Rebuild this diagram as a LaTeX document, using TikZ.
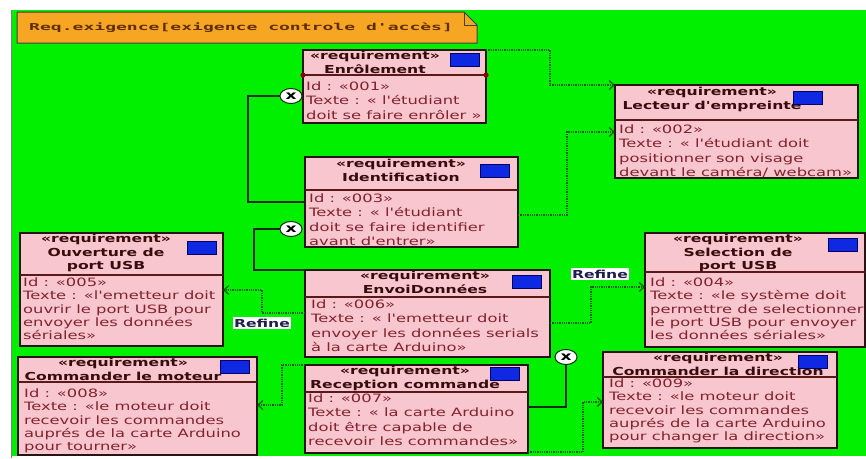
\documentclass[tikz,border=0pt]{standalone}
\usepackage{fontspec}
\setmainfont{DejaVu Sans}[FakeStretch=1.42,Ligatures=TeXOff]
\newfontfamily\titlefont{DejaVu Sans Mono}[FakeStretch=1.9,Ligatures=TeXOff]
\usetikzlibrary{arrows.meta,shapes.geometric}
\definecolor{bggreen}{RGB}{0,240,0}
\definecolor{tabor}{RGB}{246,166,35}
\definecolor{tabtxt}{RGB}{95,45,5}
\definecolor{reqpink}{RGB}{248,198,206}
\definecolor{boxline}{RGB}{40,20,20}
\definecolor{divred}{RGB}{90,25,25}
\definecolor{headtxt}{RGB}{55,12,12}
\definecolor{bodytxt}{RGB}{130,35,45}
\definecolor{iconblue}{RGB}{15,40,225}
\definecolor{refgreen}{RGB}{0,95,0}
\definecolor{contline}{RGB}{15,45,15}
\definecolor{reftxt}{RGB}{30,30,80}

\begin{document}
\begin{tikzpicture}[x=1pt,y=-1pt,
  req/.style={draw=boxline,line width=1.6pt,fill=reqpink,anchor=north west,inner sep=0pt,outer sep=0pt},
  divline/.style={draw=divred,line width=1.2pt},
  head/.style={text=headtxt,font=\bfseries\fontsize{11}{13.5}\selectfont,align=center,inner sep=0pt,anchor=north},
  body/.style={text=bodytxt,font=\fontsize{11.5}{14.5}\selectfont,align=left,inner sep=0pt,anchor=north west},
  tight/.style={font=\fontsize{11.5}{13.3}\selectfont},
  icon/.style={draw=blue!40!black,line width=.6pt,fill=iconblue,minimum width=29pt,minimum height=13pt,inner sep=0pt,anchor=north east},
  refine/.style={draw=refgreen,densely dotted,line width=1.3pt,-{Straight Barb[length=5pt,width=9pt,line width=1.2pt]}},
  reflabel/.style={fill=white,text=reftxt,font=\bfseries\fontsize{11}{12}\selectfont,inner sep=1.5pt},
  contain/.style={draw=contline,line width=1.6pt},
  ctnode/.style={ellipse,draw=contline,line width=1pt,fill=white,minimum width=22pt,minimum height=15pt,inner sep=0pt,font=\bfseries\fontsize{12}{12}\selectfont}]
\useasboundingbox (0,0) rectangle (866,458);
\fill[white] (0,0) rectangle (866,458);
\fill[bggreen] (12,10) rectangle (866,456);
\draw[gray,line width=1pt] (11.5,10) -- (11.5,458);

% title tab
\draw[fill=tabor,draw=black!75,line width=1pt] (17,12) -- (464,12) -- (477,25) -- (477,43) -- (17,43) -- cycle;
\draw[black!75,line width=.8pt] (464,12) |- (477,25);
\node[anchor=west,inner sep=0pt,text=tabtxt,font=\titlefont\bfseries\fontsize{9.5}{11}\selectfont] (title) at (29,28) {Req.exigence[exigence controle d'accès]};

% requirements
\node[req,minimum width=183,minimum height=73] (enrol) at (303,50) {};
\draw[divline] (enrol.west |- 0,75) -- (enrol.east |- 0,75);
\node[head] (enrol-h) at (375,51) {«requirement»\\Enrôlement};
\node[body] (enrol-b) at (306,81.5) {Id : «001»\\Texte : « l'étudiant\\doit se faire enrôler »};

\node[req,minimum width=213,minimum height=90] (ident) at (305,157) {};
\draw[divline] (ident.west |- 0,190) -- (ident.east |- 0,190);
\node[head] (ident-h) at (401,159) {«requirement»\\Identification};
\node[body] (ident-b) at (309,193.5) {Id : «003»\\Texte : « l'étudiant\\doit se faire identifier\\avant d'entrer»};

\node[req,minimum width=243,minimum height=93] (lect) at (615,85) {};
\draw[divline] (lect.west |- 0,120) -- (lect.east |- 0,120);
\node[head] (lect-h) at (712,87) {«requirement»\\Lecteur d'empreinte};
\node[body] (lect-b) at (619,124.5) {Id : «002»\\Texte : « l'étudiant doit\\positionner son visage\\devant le caméra/ webcam»};

\node[req,minimum width=203,minimum height=113] (ouv) at (20,233) {};
\draw[divline] (ouv.west |- 0,275) -- (ouv.east |- 0,275);
\node[head] (ouv-h) at (106,234) {«requirement»\\Ouverture de\\port USB};
\node[body,tight] (ouv-b) at (23,277.5) {Id : «005»\\Texte : «l'emetteur doit\\ouvrir le port USB pour\\envoyer les données\\sériales»};

\node[req,minimum width=245,minimum height=87] (envoi) at (305,270) {};
\draw[divline] (envoi.west |- 0,297) -- (envoi.east |- 0,297);
\node[head] (envoi-h) at (425,271) {«requirement»\\EnvoiDonnées};
\node[body] (envoi-b) at (311,299.5) {Id : «006»\\Texte : « l'emetteur doit\\envoyer les données serials\\à la carte Arduino»};

\node[req,minimum width=220,minimum height=114] (sel) at (645,233) {};
\draw[divline] (sel.west |- 0,272) -- (sel.east |- 0,272);
\node[head] (sel-h) at (738,234) {«requirement»\\Selection de\\port USB};
\node[body,tight] (sel-b) at (650,277.5) {Id : «004»\\Texte : «le système doit\\permettre de selectionner\\le port USB pour envoyer\\les données sériales»};

\node[req,minimum width=223,minimum height=88] (recep) at (305,365) {};
\draw[divline] (recep.west |- 0,392) -- (recep.east |- 0,392);
\node[head] (recep-h) at (405,366) {«requirement»\\Reception commande};
\node[body] (recep-b) at (308,393.5) {Id : «007»\\Texte : « la carte Arduino\\doit être capable de\\recevoir les commandes»};

\node[req,minimum width=239,minimum height=98] (cmot) at (18,357) {};
\draw[divline] (cmot.west |- 0,382) -- (cmot.east |- 0,382);
\node[head] (cmot-h) at (123,358) {«requirement»\\Commander le moteur};
\node[body,tight] (cmot-b) at (24,388.5) {Id : «008»\\Texte : «le moteur doit\\recevoir les commandes\\auprés de la carte Arduino\\pour tourner»};

\node[req,minimum width=234,minimum height=96] (cdir) at (603,352) {};
\draw[divline] (cdir.west |- 0,377) -- (cdir.east |- 0,377);
\node[head] (cdir-h) at (718,353) {«requirement»\\Commander la direction};
\node[body,tight] (cdir-b) at (609,378.5) {Id : «009»\\Texte : «le moteur doit\\recevoir les commandes\\auprés de la carte Arduino\\pour changer la direction»};

\foreach \b/\dx/\dy in {enrol/6/3,ident/8/7,lect/35/6,ouv/6/8,envoi/8/5,sel/7/5,recep/8/2,cmot/7/3,cdir/9/3}
{
    \node[icon] (\b-ico) at ([xshift=-\dx pt,yshift=-\dy pt]\b.north east) {};
}
\fill[red!55!black] (enrol.west |- 0,75) circle (2.6);
\fill[red!55!black] (enrol.east |- 0,75) circle (2.6);

% containment
\node[ctnode] (ct1) at (291,96) {x};
\node[ctnode] (ct2) at (291,229) {x};
\node[ctnode] (ct3) at (566,357) {x};
\draw[contain] (ct1.west) -| (248,202) -- (ident.west |- 0,202);
\draw[contain] (ct2.west) -| (254,270) -- (envoi.north west);
\draw[contain] (ct3.south) |- (recep.east |- 0,407);

% refine
\draw[refine] (enrol.north east) -| (550,85) -- (lect.north west);
\draw[refine] (ident.east |- 0,215) -| (567,132) -- (lect.west |- 0,132);
\draw[refine] (envoi.west |- 0,313) -| (262,290) -- (ouv.east |- 0,290);
\draw[refine] (envoi.east |- 0,323) -| (591,287) -- (sel.west |- 0,287);
\draw[refine] (recep.north west) -| (282,405) -- (cmot.east |- 0,405);
\draw[refine] (recep.east |- 0,452) -| (583,402) -- (cdir.west |- 0,402);
\node[reflabel] (ref1) at (262,323) {Refine};
\node[reflabel] (ref2) at (600,274) {Refine};
\end{tikzpicture}
\end{document}
